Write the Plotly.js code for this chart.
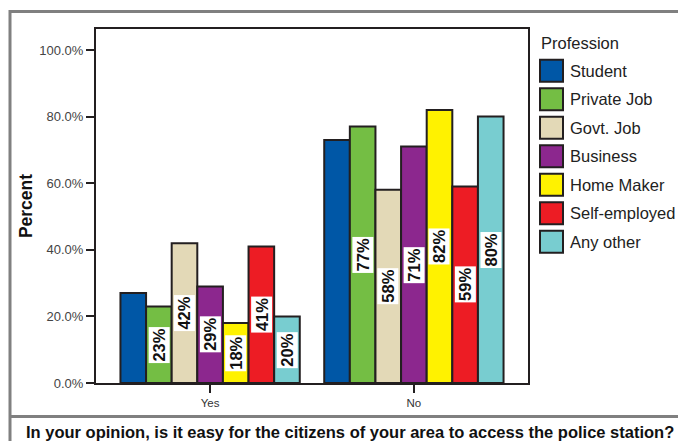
<!DOCTYPE html>
<html>
<head>
<meta charset="utf-8">
<script src="https://cdn.plot.ly/plotly-3.0.1.min.js"></script>
<style>
  html, body { margin: 0; padding: 0; background: #fff; }
  #chart { width: 678px; height: 441px; }
</style>
</head>
<body>
<div id="chart"></div>
<script>
// ---- data ----
const categories = ['Yes', 'No'];
const professions = ['Student', 'Private Job', 'Govt. Job', 'Business', 'Home Maker', 'Self-employed', 'Any other'];
const student = [27, 73];
const privateJob = [23, 77];
const govtJob = [42, 58];
const business = [29, 71];
const homeMaker = [18, 82];
const selfEmployed = [41, 59];
const anyOther = [20, 80];
const labelsYes = ['', '23%', '42%', '29%', '18%', '41%', '20%'];
const labelsNo = ['', '77%', '58%', '71%', '82%', '59%', '80%'];
const yTickVals = [0, 20, 40, 60, 80, 100];
const yTickText = ['0.0%', '20.0%', '40.0%', '60.0%', '80.0%', '100.0%'];
const colors = ['#0057a6', '#74be44', '#e3d9b7', '#8c278e', '#fff200', '#ed1c24', '#78cdd0'];

const seriesValues = [student, privateJob, govtJob, business, homeMaker, selfEmployed, anyOther];
const labelSets = [labelsYes, labelsNo];

const FONT = 'Arial, "Liberation Sans", sans-serif';
const bargap = 0.12;
const nSeries = professions.length;
const barW = (1 - bargap) / nSeries;

const traces = seriesValues.map((vals, i) => ({
  type: 'bar',
  name: professions[i],
  x: categories,
  y: vals,
  marker: { color: colors[i], line: { color: '#231f20', width: 2 } },
  showlegend: false,
  hoverinfo: 'x+y+name'
}));

// value labels (white boxes, rotated)
const annotations = [];
categories.forEach((cat, ci) => {
  seriesValues.forEach((vals, si) => {
    const t = labelSets[ci][si];
    if (!t) return;
    annotations.push({
      xref: 'x', yref: 'y',
      x: ci + (si - (nSeries - 1) / 2) * barW,
      y: vals[ci] / 2,
      text: '<b>' + t + '</b>',
      textangle: -90,
      showarrow: false,
      bgcolor: '#ffffff',
      borderpad: 1,
      font: { family: FONT, size: 16.5, color: '#111' }
    });
  });
});

// pixel helpers for paper coords
const L = 96, R = 528, T = 29, B = 383;
const px = v => (v - L) / (R - L);
const py = v => (B - v) / (B - T);

// custom legend
const shapes = [];
annotations.push({
  xref: 'paper', yref: 'paper', x: px(539), y: py(43),
  xanchor: 'left', yanchor: 'middle', showarrow: false,
  text: 'Profession', font: { family: FONT, size: 16.5, color: '#222' }
});
professions.forEach((p, i) => {
  const cy = 70.7 + i * 28.5;
  shapes.push({
    type: 'rect', xref: 'paper', yref: 'paper',
    x0: px(540), x1: px(563), y0: py(cy - 11), y1: py(cy + 11),
    fillcolor: colors[i], line: { color: '#231f20', width: 2 }
  });
  annotations.push({
    xref: 'paper', yref: 'paper', x: px(568), y: py(cy),
    xanchor: 'left', yanchor: 'middle', showarrow: false,
    text: p, font: { family: FONT, size: 16.5, color: '#222' }
  });
});

// outer frame and separator
shapes.push({
  type: 'rect', xref: 'paper', yref: 'paper', layer: 'below',
  x0: px(10), x1: px(700), y0: py(11.5), y1: py(460),
  line: { color: '#808080', width: 3 }, fillcolor: 'rgba(0,0,0,0)'
});
shapes.push({
  type: 'line', xref: 'paper', yref: 'paper',
  x0: px(10), x1: px(700), y0: py(416.5), y1: py(416.5),
  line: { color: '#808080', width: 3 }
});
annotations.push({
  xref: 'paper', yref: 'paper', x: px(24), y: py(432),
  xanchor: 'left', yanchor: 'middle', showarrow: false,
  text: '<b>In your opinion, is it easy for the citizens of your area to access the police station?</b>',
  font: { family: FONT, size: 16.5, color: '#111' }
});

const layout = {
  width: 678, height: 441,
  margin: { l: L, r: 678 - R, t: T, b: 441 - B, pad: 0 },
  paper_bgcolor: '#ffffff', plot_bgcolor: '#ffffff',
  barmode: 'group', bargap: bargap, bargroupgap: 0,
  showlegend: false,
  font: { family: FONT },
  xaxis: {
    type: 'category', range: [-0.56, 1.56],
    showline: true, linecolor: '#231f20', linewidth: 2, mirror: true,
    ticks: 'outside', ticklen: 8, tickwidth: 2, tickcolor: '#231f20',
    tickfont: { family: FONT, size: 11.5, color: '#333' },
    showgrid: false, zeroline: false, fixedrange: true
  },
  yaxis: {
    range: [0, 106.3],
    tickvals: yTickVals, ticktext: yTickText,
    showline: true, linecolor: '#231f20', linewidth: 2, mirror: true,
    ticks: 'outside', ticklen: 8, tickwidth: 2, tickcolor: '#231f20',
    tickfont: { family: FONT, size: 13, color: '#444' },
    showgrid: false, zeroline: false, fixedrange: true,
    title: { text: '<b>Percent</b>', font: { family: FONT, size: 17.5, color: '#111' }, standoff: 2 }
  },
  annotations: annotations,
  shapes: shapes
};

Plotly.newPlot('chart', traces, layout, { displayModeBar: false, staticPlot: true });
</script>
</body>
</html>
